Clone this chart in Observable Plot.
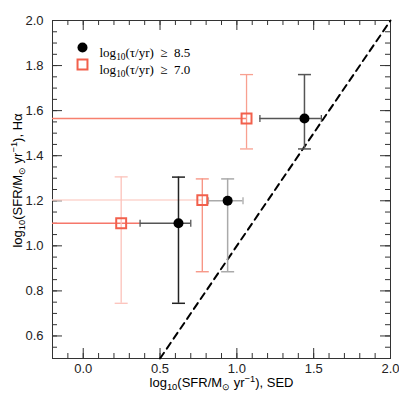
<!DOCTYPE html>
<html><head><meta charset="utf-8">
<script src="https://cdn.jsdelivr.net/npm/d3@7"></script>
<script src="https://cdn.jsdelivr.net/npm/@observablehq/plot@0.6"></script>
<style>body{margin:0;background:#fff}</style>
</head><body><div id="chart"></div>
<script>
// ---- data ----
const blackX   = [1.44, 0.62, 0.94];
const blackY   = [1.565, 1.10, 1.20];
const blackXLo = [1.15, 0.37, 0.815];
const blackXHi = [1.55, 0.70, 1.04];
const blackYLo = [1.43, 0.745, 0.885];
const blackYHi = [1.76, 1.305, 1.297];

const redX    = [1.063, 0.247, 0.775];
const redY    = [1.565, 1.10, 1.203];
const redXEnd = [1.063, 0.37, 0.775];
const redYLo  = [1.43, 0.745, 0.885];
const redYHi  = [1.76, 1.306, 1.297];

const oneToOne = [0.5, 2.0];
const xMajor = [0, 0.5, 1, 1.5, 2];
const yMajor = [0.6, 0.8, 1.0, 1.2, 1.4, 1.6, 1.8, 2.0];
const legendLabels = ["log10(τ/yr)  ≥  8.5", "log10(τ/yr)  ≥  7.0"];
const xTitle = "log10(SFR/Msun yr-1), SED";
const yTitle = "log10(SFR/Msun yr-1), Ha";

// ---- styles ----
const blackHColor = ["#555", "#555", "#aaa"];
const blackVColor = ["#555", "#222", "#aaa"];
const redHColor = ["#f7806e", "#f6776a", "#fdd6cf"];
const redVColor = ["#f8a090", "#fcc2ba", "#f7907f"];
const redStroke = "#f2604c";

const black = blackX.map((x, i) => ({x, y: blackY[i], xlo: blackXLo[i], xhi: blackXHi[i], ylo: blackYLo[i], yhi: blackYHi[i], hc: blackHColor[i], vc: blackVColor[i]}));
const red = redX.map((x, i) => ({x, y: redY[i], xend: redXEnd[i], ylo: redYLo[i], yhi: redYHi[i], hc: redHColor[i], vc: redVColor[i]}));

const xMinor = d3.range(-0.1, 2.0, 0.1).map(v => +v.toFixed(2));
const yMinor = d3.range(0.55, 2.0, 0.05).map(v => +v.toFixed(2));

const W = 399, H = 399, mL = 52, mR = 9, mT = 20, mB = 41;
const fw = W - mL - mR, fh = H - mT - mB;

const capH = {draw(ctx) { ctx.moveTo(-6.5, 0); ctx.lineTo(6.5, 0); }};
const capV = {draw(ctx) { ctx.moveTo(0, -3.5); ctx.lineTo(0, 3.5); }};

const chart = Plot.plot({
  width: W, height: H,
  marginLeft: mL, marginRight: mR, marginTop: mT, marginBottom: mB,
  style: {fontFamily: "'Liberation Sans', Arial, sans-serif", fontSize: "13px", background: "#fff"},
  x: {domain: [-0.2, 2.0], label: null},
  y: {domain: [0.5, 2.0], label: null},
  color: {type: "identity"},
  marks: [
    Plot.axisX({ticks: xMajor, tickSize: 0, tickPadding: 5, tickFormat: d3.format(".1f"), fontSize: 13, fill: "#222"}),
    Plot.axisY({ticks: yMajor, tickSize: 0, tickPadding: 9, tickFormat: d3.format(".1f"), fontSize: 13, fill: "#222"}),
    Plot.tickX(xMinor, {x: d => d, insetTop: fh - 5, stroke: "#333"}),
    Plot.tickX(xMinor, {x: d => d, insetBottom: fh - 5, stroke: "#333"}),
    Plot.tickX(xMajor, {x: d => d, insetTop: fh - 10, stroke: "#333"}),
    Plot.tickX(xMajor, {x: d => d, insetBottom: fh - 10, stroke: "#333"}),
    Plot.tickY(yMinor, {y: d => d, insetRight: fw - 5, stroke: "#333"}),
    Plot.tickY(yMinor, {y: d => d, insetLeft: fw - 5, stroke: "#333"}),
    Plot.tickY(yMajor, {y: d => d, insetRight: fw - 10, stroke: "#333"}),
    Plot.tickY(yMajor, {y: d => d, insetLeft: fw - 10, stroke: "#333"}),
    Plot.frame({stroke: "#333"}),
    Plot.line(oneToOne, {x: d => d, y: d => d, stroke: "#000", strokeWidth: 2, strokeDasharray: "7,5"}),
    Plot.ruleY(red, {y: "y", x1: -0.2, x2: "xend", stroke: "hc", strokeWidth: 1.5}),
    Plot.ruleX(red, {x: "x", y1: "ylo", y2: "yhi", stroke: "vc", strokeWidth: 1.3}),
    Plot.dot(red, {x: "x", y: "ylo", symbol: capH, stroke: "vc", strokeWidth: 1.3}),
    Plot.dot(red, {x: "x", y: "yhi", symbol: capH, stroke: "vc", strokeWidth: 1.3}),
    Plot.ruleY(black, {y: "y", x1: "xlo", x2: "xhi", stroke: "hc", strokeWidth: 1.5}),
    Plot.dot(black, {x: "xlo", y: "y", symbol: capV, stroke: "hc", strokeWidth: 1.3}),
    Plot.dot(black, {x: "xhi", y: "y", symbol: capV, stroke: "hc", strokeWidth: 1.3}),
    Plot.ruleX(black, {x: "x", y1: "ylo", y2: "yhi", stroke: "vc", strokeWidth: 1.5}),
    Plot.dot(black, {x: "x", y: "ylo", symbol: capH, stroke: "vc", strokeWidth: 1.5}),
    Plot.dot(black, {x: "x", y: "yhi", symbol: capH, stroke: "vc", strokeWidth: 1.5}),
    Plot.dot(red, {x: "x", y: "y", symbol: "square", r: 5.6, stroke: redStroke, strokeWidth: 2, fill: "none"}),
    Plot.dot(black, {x: "x", y: "y", r: 5, fill: "#000"}),
    Plot.dot([legendLabels[0]], {frameAnchor: "top-left", dx: 30, dy: 27, r: 5, fill: "#000"}),
    Plot.dot([legendLabels[1]], {frameAnchor: "top-left", dx: 30, dy: 44, symbol: "square", r: 5.6, stroke: redStroke, strokeWidth: 2, fill: "none"}),
    Plot.text([legendLabels[0]], {text: d => d, frameAnchor: "top-left", dx: 47, dy: 27, textAnchor: "start", fontFamily: "'Liberation Serif', 'Times New Roman', serif", fontSize: 13, fill: "#000"}),
    Plot.text([legendLabels[1]], {text: d => d, frameAnchor: "top-left", dx: 47, dy: 44, textAnchor: "start", fontFamily: "'Liberation Serif', 'Times New Roman', serif", fontSize: 13, fill: "#000"}),
    Plot.text([xTitle], {text: d => d, frameAnchor: "bottom", dy: 28, textAnchor: "middle", fontSize: 13, fill: "#000"}),
    Plot.text([yTitle], {text: d => d, frameAnchor: "left", dx: -35, dy: -9, rotate: -90, textAnchor: "middle", fontSize: 13, fill: "#000"})
  ]
});

function rich(el, segs) {
  const t = d3.select(el); t.text(null);
  let cur = 0;
  for (const [s, kind] of segs) {
    const target = kind === "sub" ? 3.5 : kind === "sup" ? -5 : 0;
    const ts = t.append("tspan").text(s).attr("dy", target - cur);
    if (kind) ts.attr("font-size", "72%");
    cur = target;
  }
}
d3.select(chart).selectAll("text").each(function() {
  const s = this.textContent;
  if (s === xTitle) rich(this, [["log",""],["10","sub"],["(SFR/M",""],["\u2299","sub"],[" yr",""],["\u22121","sup"],["), SED",""]]);
  else if (s === yTitle) rich(this, [["log",""],["10","sub"],["(SFR/M",""],["\u2299","sub"],[" yr",""],["\u22121","sup"],["), H\u03b1",""]]);
  else if (s === legendLabels[0]) rich(this, [["log",""],["10","sub"],["(\u03c4/yr)  \u2265  8.5",""]]);
  else if (s === legendLabels[1]) rich(this, [["log",""],["10","sub"],["(\u03c4/yr)  \u2265  7.0",""]]);
});
d3.select(chart).selectAll("text").attr("xml:space", "preserve").style("white-space", "pre");

document.getElementById("chart").appendChild(chart);
</script>
</body></html>
